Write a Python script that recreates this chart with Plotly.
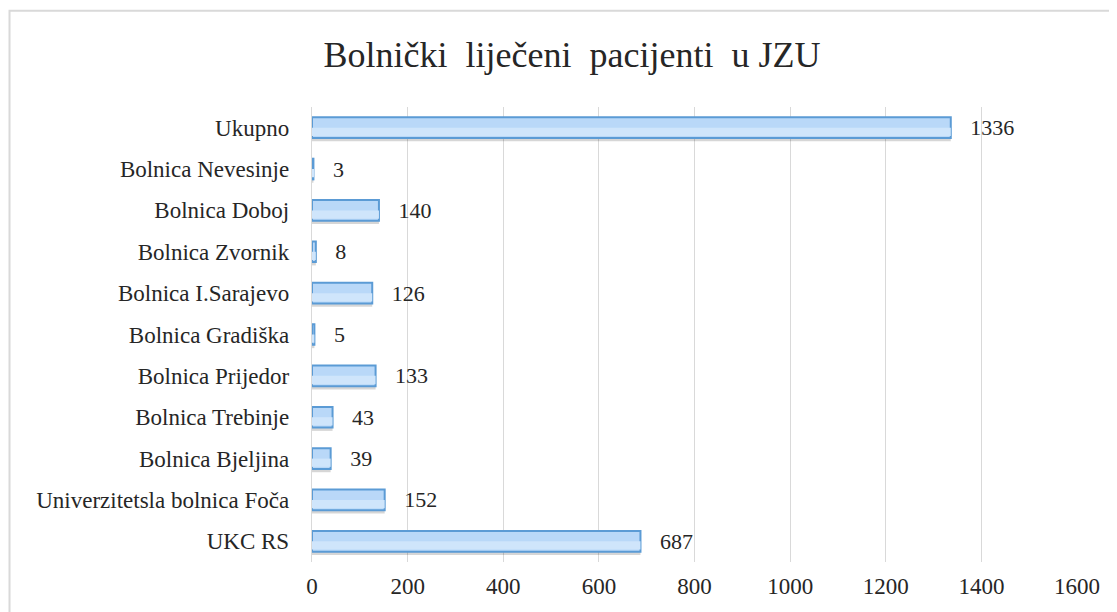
import plotly.graph_objects as go

categories = ["Ukupno", "Bolnica Nevesinje", "Bolnica Doboj", "Bolnica Zvornik",
              "Bolnica I.Sarajevo", "Bolnica Gradiška", "Bolnica Prijedor",
              "Bolnica Trebinje", "Bolnica Bjeljina", "Univerzitetsla bolnica Foča", "UKC RS"]
values = [1336, 3, 140, 8, 126, 5, 133, 43, 39, 152, 687]
x_ticks = [0, 200, 400, 600, 800, 1000, 1200, 1400, 1600]

FONT = "Liberation Serif, Times New Roman, serif"
TXT = "#262626"

fig = go.Figure()
# soft shadow below the bars
fig.add_trace(go.Bar(
    x=values, y=categories, orientation="h",
    width=0.5, offset=-0.17,
    marker=dict(color="rgba(0,0,0,0.16)", line=dict(width=0)),
    hoverinfo="skip", showlegend=False,
))
# main bar
fig.add_trace(go.Bar(
    x=values, y=categories, orientation="h",
    width=0.5, offset=-0.25,
    marker=dict(color="#B9D8F8", line=dict(color="#5B9BD5", width=2)),
    text=["   " + str(v) for v in values], textposition="outside",
    constraintext="none",
    textfont=dict(family=FONT, size=22, color=TXT),
    cliponaxis=False, showlegend=False,
))
# lighter lower part to suggest the gradient
fig.add_trace(go.Bar(
    x=values, y=categories, orientation="h",
    width=0.2, offset=0.0,
    marker=dict(color="#CFE5FB", line=dict(width=0)),
    hoverinfo="skip", showlegend=False,
))

fig.update_layout(
    width=1109, height=604,
    barmode="overlay",
    paper_bgcolor="white", plot_bgcolor="white",
    margin=dict(l=304, r=40, t=99, b=50),
    font=dict(family=FONT, color=TXT),
    title=dict(text="Bolnički  liječeni  pacijenti  u JZU", x=0.5086, xanchor="center",
               y=0.923, yanchor="middle",
               font=dict(family=FONT, size=36, color=TXT)),
    xaxis=dict(range=[0, 1600], tickvals=x_ticks, showgrid=True, gridcolor="#D9D9D9",
               gridwidth=1, zeroline=False, showline=False, ticks="",
               ticklabelstandoff=8,
               tickfont=dict(family=FONT, size=23, color=TXT)),
    yaxis=dict(categoryorder="array", categoryarray=categories, autorange="reversed",
               showgrid=False, showline=True, linecolor="#D9D9D9", ticks="",
               ticksuffix="   ",
               tickfont=dict(family=FONT, size=23, color=TXT)),
    shapes=[dict(type="rect", xref="paper", yref="paper",
                 x0=-0.3954, x1=1.06, y0=-0.12, y1=1.2117,
                 line=dict(color="#D9D9D9", width=2), fillcolor="rgba(0,0,0,0)",
                 layer="below")],
)
fig.write_html("out.html")
